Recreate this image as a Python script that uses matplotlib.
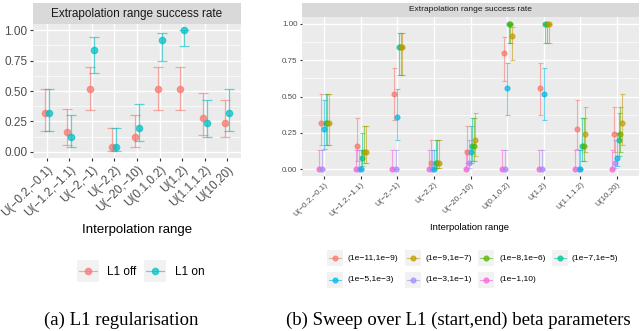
import matplotlib
matplotlib.use('Agg')
import matplotlib.pyplot as plt
from matplotlib.patches import Rectangle
from matplotlib.lines import Line2D
import numpy as np

plt.rcParams['font.family'] = ['Liberation Sans', 'DejaVu Sans']

W, H = 640, 331

categories = ['U(−0.2,−0.1)', 'U(−1.2,−1.1)', 'U(−2,−1)', 'U(−2,2)', 'U(−20,−10)',
              'U(0.1,0.2)', 'U(1,2)', 'U(1.1,1.2)', 'U(10,20)']

# (a) L1 off / on
l1_off = [0.32, 0.16, 0.52, 0.04, 0.12, 0.52, 0.52, 0.28, 0.24]
l1_off_lo = [0.17, 0.06, 0.34, 0.01, 0.04, 0.34, 0.34, 0.14, 0.12]
l1_off_hi = [0.52, 0.35, 0.70, 0.20, 0.30, 0.70, 0.70, 0.48, 0.43]
l1_on = [0.32, 0.12, 0.84, 0.04, 0.20, 0.92, 1.00, 0.24, 0.32]
l1_on_lo = [0.17, 0.04, 0.65, 0.01, 0.09, 0.75, 0.87, 0.12, 0.17]
l1_on_hi = [0.52, 0.30, 0.94, 0.20, 0.39, 0.98, 1.00, 0.43, 0.52]

# (b) sweep over (start,end) beta
b_11_9 = [0.32, 0.16, 0.52, 0.04, 0.12, 0.80, 0.56, 0.28, 0.24]
b_11_9_lo = [0.17, 0.06, 0.34, 0.01, 0.04, 0.61, 0.37, 0.14, 0.12]
b_11_9_hi = [0.52, 0.35, 0.70, 0.20, 0.30, 0.91, 0.73, 0.48, 0.43]
b_9_7 = [0.32, 0.12, 0.84, 0.04, 0.20, 0.92, 1.00, 0.24, 0.32]
b_9_7_lo = [0.17, 0.04, 0.65, 0.01, 0.09, 0.75, 0.87, 0.12, 0.17]
b_9_7_hi = [0.52, 0.30, 0.94, 0.20, 0.39, 0.98, 1.00, 0.43, 0.52]
b_8_6 = [0.32, 0.12, 0.84, 0.04, 0.16, 1.00, 1.00, 0.16, 0.24]
b_8_6_lo = [0.17, 0.04, 0.65, 0.01, 0.06, 0.87, 0.87, 0.06, 0.12]
b_8_6_hi = [0.52, 0.30, 0.94, 0.20, 0.35, 1.00, 1.00, 0.35, 0.43]
b_7_5 = [0.32, 0.08, 0.84, 0.04, 0.16, 1.00, 1.00, 0.16, 0.20]
b_7_5_lo = [0.17, 0.02, 0.65, 0.01, 0.06, 0.87, 0.87, 0.06, 0.09]
b_7_5_hi = [0.52, 0.25, 0.94, 0.20, 0.35, 1.00, 1.00, 0.35, 0.39]
b_5_3 = [0.28, 0.00, 0.36, 0.00, 0.12, 0.56, 0.52, 0.00, 0.08]
b_5_3_lo = [0.14, 0.00, 0.20, 0.00, 0.04, 0.37, 0.34, 0.00, 0.02]
b_5_3_hi = [0.48, 0.13, 0.55, 0.13, 0.30, 0.73, 0.70, 0.13, 0.25]
b_3_1 = [0.00, 0.00, 0.00, 0.00, 0.04, 0.00, 0.00, 0.00, 0.04]
b_3_1_lo = [0.00, 0.00, 0.00, 0.00, 0.01, 0.00, 0.00, 0.00, 0.01]
b_3_1_hi = [0.13, 0.13, 0.13, 0.13, 0.20, 0.13, 0.13, 0.13, 0.20]
b_1_10 = [0.00, 0.00, 0.00, 0.00, 0.00, 0.00, 0.00, 0.00, 0.00]
b_1_10_lo = [0.00, 0.00, 0.00, 0.00, 0.00, 0.00, 0.00, 0.00, 0.00]
b_1_10_hi = [0.13, 0.13, 0.13, 0.13, 0.13, 0.13, 0.13, 0.13, 0.13]

# legend order, colour
sweep = [
    ('(1e−11,1e−9)', '#F8766D', b_11_9, b_11_9_lo, b_11_9_hi),
    ('(1e−9,1e−7)', '#C49A00', b_9_7, b_9_7_lo, b_9_7_hi),
    ('(1e−8,1e−6)', '#53B400', b_8_6, b_8_6_lo, b_8_6_hi),
    ('(1e−7,1e−5)', '#00C094', b_7_5, b_7_5_lo, b_7_5_hi),
    ('(1e−5,1e−3)', '#00B6EB', b_5_3, b_5_3_lo, b_5_3_hi),
    ('(1e−3,1e−1)', '#A58AFF', b_3_1, b_3_1_lo, b_3_1_hi),
    ('(1e−1,10)', '#FB61D7', b_1_10, b_1_10_lo, b_1_10_hi),
]
# dodge order (factor levels sorted as strings)
dodge = ['(1e−1,10)', '(1e−11,1e−9)', '(1e−3,1e−1)', '(1e−5,1e−3)',
         '(1e−7,1e−5)', '(1e−8,1e−6)', '(1e−9,1e−7)']

fig = plt.figure(figsize=(W / 100, H / 100), dpi=100)


def box(l, t, r, b):
    return [l / W, 1 - b / H, (r - l) / W, (b - t) / H]


def fx(x):
    return x / W


def fy(y):
    return 1 - y / H


def style_panel(ax, fs, tlen):
    ax.set_facecolor('#EBEBEB')
    ax.set_xlim(-0.6, 8.6)
    ax.set_ylim(-0.05, 1.05)
    for s in ax.spines.values():
        s.set_visible(False)
    ax.set_yticks([0, 0.25, 0.5, 0.75, 1.0])
    ax.set_yticklabels(['0.00', '0.25', '0.50', '0.75', '1.00'])
    ax.set_yticks([0.125, 0.375, 0.625, 0.875], minor=True)
    ax.set_xticks(range(len(categories)))
    ax.set_xticklabels(categories, rotation=45, ha='right', va='top',
                       rotation_mode='anchor')
    ax.grid(which='major', color='white', lw=1.0)
    ax.grid(which='minor', axis='y', color='white', lw=0.5)
    ax.set_axisbelow(True)
    ax.tick_params(which='minor', length=0)
    ax.tick_params(which='major', length=tlen, width=0.8, color='#333333',
                   labelcolor='#4D4D4D', labelsize=fs, pad=1.5)


def strip(b, text, fs):
    sax = fig.add_axes(b)
    sax.set_facecolor('#D9D9D9')
    sax.set_xticks([])
    sax.set_yticks([])
    for s in sax.spines.values():
        s.set_visible(False)
    sax.text(0.5, 0.5, text, ha='center', va='center', fontsize=fs, color='#1A1A1A')


def legend_key(l, t, size, color, ms, lw):
    fig.add_artist(Rectangle((fx(l), fy(t + size)), size / W, size / H,
                             transform=fig.transFigure, facecolor='#F2F2F2',
                             edgecolor='none'))
    cy = fy(t + size / 2)
    fig.add_artist(Line2D([fx(l + 2), fx(l + size - 2)], [cy, cy],
                          transform=fig.transFigure, color=color, lw=lw, alpha=0.6))
    fig.add_artist(Line2D([fx(l + size / 2)], [cy], transform=fig.transFigure,
                          marker='o', ms=ms, color=color, alpha=0.7, lw=0))


x = np.arange(len(categories))

# ---- (a) ----
ax1 = fig.add_axes(box(33, 24, 241, 158))
style_panel(ax1, 8.5, 2.5)
for vals, lo, hi, col, off in [(l1_off, l1_off_lo, l1_off_hi, '#F8766D', -0.09),
                               (l1_on, l1_on_lo, l1_on_hi, '#00BFC4', 0.09)]:
    v = np.array(vals)
    err = [v - np.array(lo), np.array(hi) - v]
    ax1.errorbar(x + off, v, yerr=err, fmt='none', ecolor=col, elinewidth=0.9,
                 capsize=3.8, capthick=0.9, alpha=0.6)
    ax1.plot(x + off, v, 'o', color=col, ms=4.5, alpha=0.7)
strip(box(33, 3, 241, 24), 'Extrapolation range success rate', 8.5)
fig.text(fx(137), fy(230), 'Interpolation range', ha='center', va='center',
         fontsize=9.5, color='black')

legend_key(77, 260, 22, '#F8766D', 4.5, 0.9)
fig.text(fx(107), fy(272), 'L1 off', ha='left', va='center', fontsize=8.5)
legend_key(144, 260, 22, '#00BFC4', 4.5, 0.9)
fig.text(fx(175), fy(272), 'L1 on', ha='left', va='center', fontsize=8.5)

# ---- (b) ----
ax2 = fig.add_axes(box(302, 16.7, 639, 176.5))
style_panel(ax2, 5.8, 1.8)
step = 0.045
for name, col, vals, lo, hi in sorted(sweep, key=lambda s: dodge.index(s[0])):
    off = (dodge.index(name) - 3) * step
    v = np.array(vals)
    err = [v - np.array(lo), np.array(hi) - v]
    ax2.errorbar(x + off, v, yerr=err, fmt='none', ecolor=col, elinewidth=0.8,
                 capsize=1.8, capthick=0.8, alpha=0.55)
    ax2.plot(x + off, v, 'o', color=col, ms=3.4, alpha=0.7)
strip(box(302, 3, 639, 16.7), 'Extrapolation range success rate', 6)
fig.text(fx(470), fy(228), 'Interpolation range', ha='center', va='center',
         fontsize=6.8, color='black')

key_x = [327, 405, 478, 552]
text_x = [348, 426, 500, 572]
for i, (name, col, *_rest) in enumerate(sweep):
    row, c = divmod(i, 4)
    top = 250 if row == 0 else 271.5
    legend_key(key_x[c], top, 16, col, 3.4, 0.8)
    fig.text(fx(text_x[c]), fy(top + 8), name, ha='left', va='center', fontsize=6.1)

# captions
fig.text(fx(121), fy(320), '(a) L1 regularisation', ha='center', va='center',
         fontsize=13.5, family='Liberation Serif')
fig.text(fx(458), fy(320), '(b) Sweep over L1 (start,end) beta parameters',
         ha='center', va='center', fontsize=13.5, family='Liberation Serif')

fig.savefig('out.png', dpi=100)
